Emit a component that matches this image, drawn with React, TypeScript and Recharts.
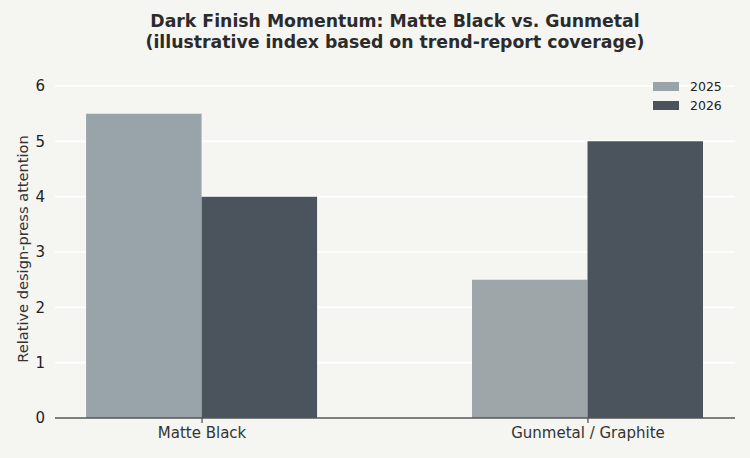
import React from "react";
import {
  BarChart,
  Bar,
  XAxis,
  YAxis,
  CartesianGrid,
  Cell,
} from "recharts";

const categories = ["Matte Black", "Gunmetal / Graphite"];
const values2025 = [5.5, 2.5];
const values2026 = [4.0, 5.0];
const yTicks = [0, 1, 2, 3, 4, 5, 6];
const colors2025 = ["#98a4aa", "#9ea6a9"];
const color2026 = "#4b545d";

const data = categories.map((name, i) => ({
  x: i,
  name,
  y2025: values2025[i],
  y2026: values2026[i],
}));

const font = "'DejaVu Sans', sans-serif";

function LegendBox() {
  const items = [
    { label: "2025", color: colors2025[0] },
    { label: "2026", color: color2026 },
  ];
  return (
    <div
      style={{
        position: "absolute",
        top: 77,
        left: 653,
        fontFamily: font,
        fontSize: 12.5,
        color: "#222",
      }}
    >
      {items.map((it) => (
        <div
          key={it.label}
          style={{ display: "flex", alignItems: "center", height: 19 }}
        >
          <span
            style={{
              display: "inline-block",
              width: 26,
              height: 9,
              background: it.color,
              marginRight: 11,
            }}
          />
          <span>{it.label}</span>
        </div>
      ))}
    </div>
  );
}

export default function App() {
  return (
    <div
      style={{
        position: "absolute",
        left: 0,
        top: 0,
        width: 750,
        height: 458,
        background: "#f5f5f2",
        fontFamily: font,
      }}
    >
      <div
        style={{
          position: "absolute",
          left: 45,
          width: 700,
          top: 11,
          textAlign: "center",
          fontWeight: "bold",
          fontSize: 17.3,
          lineHeight: "21px",
          color: "#2b2b2b",
        }}
      >
        Dark Finish Momentum: Matte Black vs. Gunmetal
        <br />
        (illustrative index based on trend-report coverage)
      </div>
      <BarChart
        width={750}
        height={458}
        data={data}
        margin={{ top: 86, right: 15, bottom: 10, left: 0 }}
        barGap={0}
        style={{ position: "absolute", left: 0, top: 0 }}
      >
        <CartesianGrid
          vertical={false}
          stroke="#ffffff"
          strokeWidth={1.6}
        />
        <XAxis
          dataKey="x"
          type="number"
          domain={[-0.381, 1.381]}
          allowDataOverflow
          ticks={[0, 1]}
          tickFormatter={(v: number) => categories[v] ?? ""}
          height={30}
          stroke="#555555"
          strokeWidth={1.3}
          tickSize={5}
          tickMargin={4}
          tick={{ fontSize: 15, fill: "#333", fontFamily: font }}
        />
        <YAxis
          domain={[0, 6]}
          ticks={yTicks}
          width={55}
          axisLine={false}
          tickLine={false}
          tickMargin={4}
          tick={{ fontSize: 15, fill: "#222", fontFamily: font }}
          label={{
            content: (props: any) => {
              const vb = props.viewBox || { y: 86, height: 332 };
              const cy = vb.y + vb.height / 2 - 3;
              return (
                <text
                  x={22}
                  y={cy}
                  transform={`rotate(-90, 22, ${cy})`}
                  textAnchor="middle"
                  dominantBaseline="central"
                  fontSize={14.6}
                  fill="#333"
                  fontFamily={font}
                >
                  Relative design-press attention
                </text>
              );
            },
          }}
        />
        <Bar dataKey="y2025" barSize={115.5} isAnimationActive={false}>
          {data.map((d, i) => (
            <Cell key={d.name} fill={colors2025[i]} />
          ))}
        </Bar>
        <Bar
          dataKey="y2026"
          barSize={115.5}
          fill={color2026}
          isAnimationActive={false}
        />
      </BarChart>
      <LegendBox />
    </div>
  );
}
